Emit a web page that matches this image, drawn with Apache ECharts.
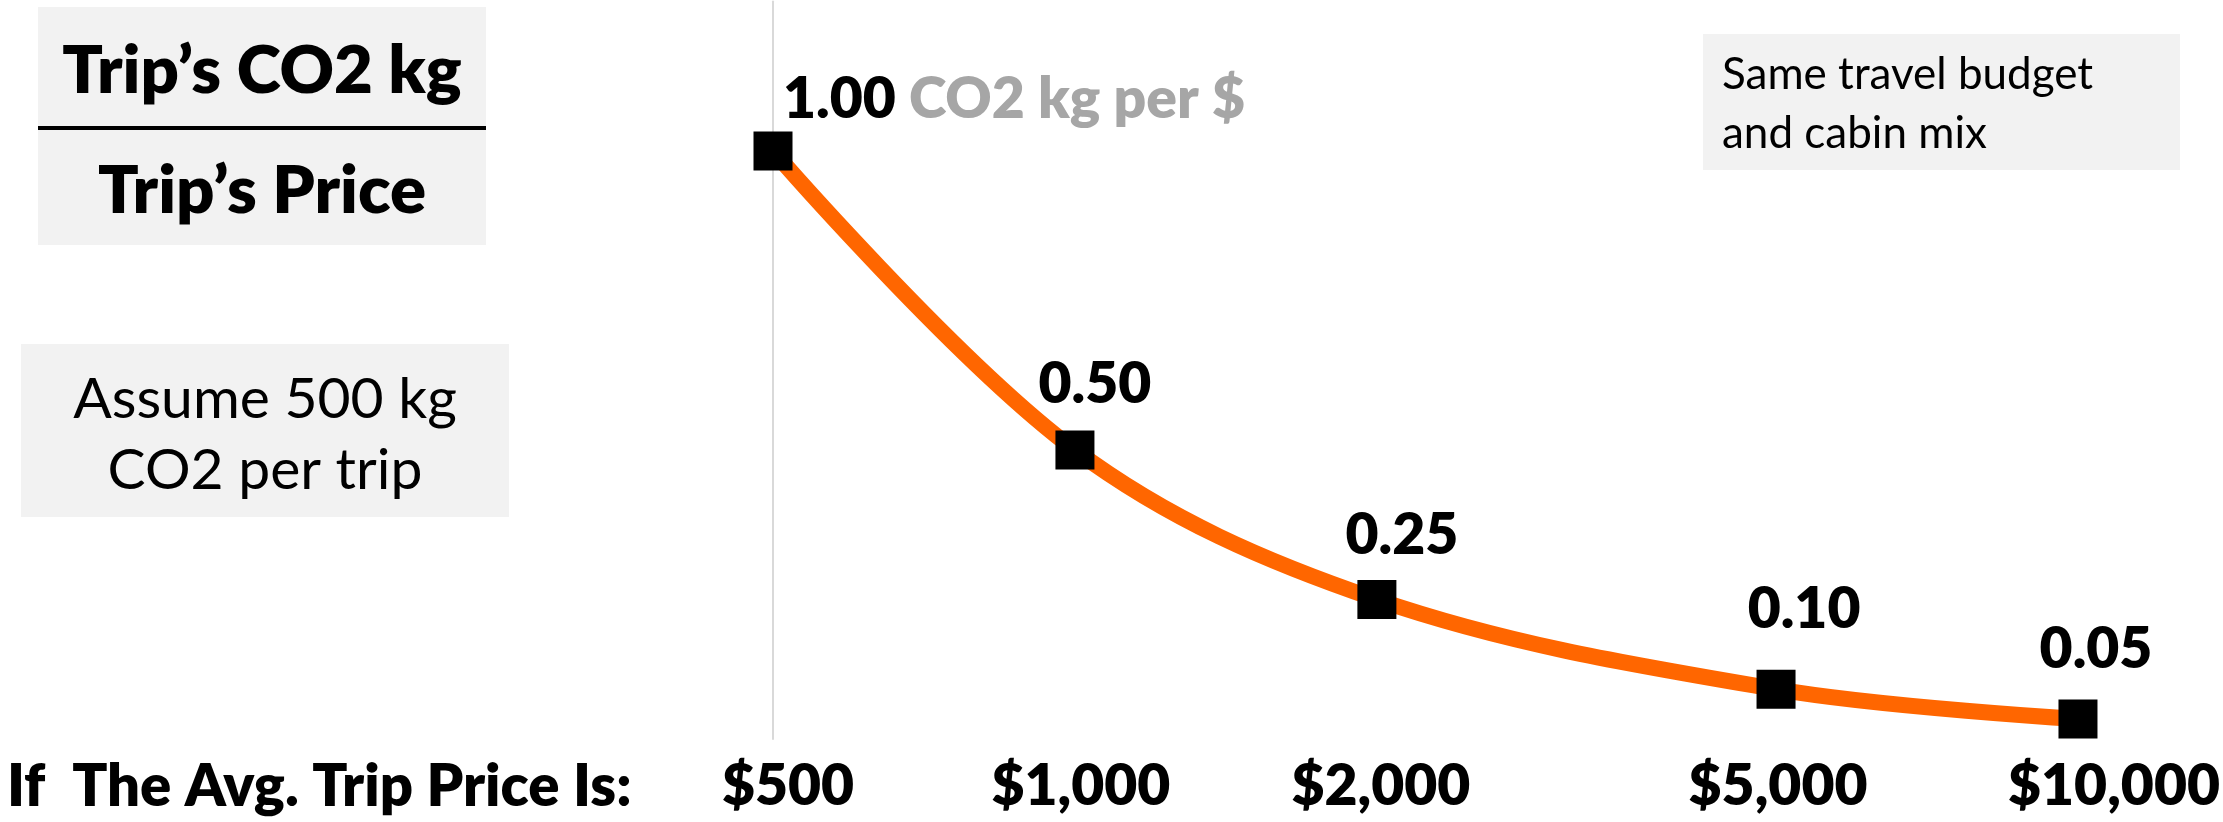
<!DOCTYPE html>
<html>
<head>
<meta charset="utf-8">
<script src="https://cdn.jsdelivr.net/npm/echarts@6/dist/echarts.min.js"></script>
<style>
  html, body { margin: 0; padding: 0; background: #ffffff; }
  #chart { width: 2223px; height: 822px; }
</style>
</head>
<body>
<div id="chart"></div>
<script>
// Average trip price (x) and the resulting CO2 kg per dollar spent (y)
const prices = [500, 1000, 2000, 5000, 10000];
const co2PerDollar = [1.00, 0.50, 0.25, 0.10, 0.05];
const priceLabels = ['$500', '$1,000', '$2,000', '$5,000', '$10,000'];

// Layout tweaks for the value labels and the price labels (pixels)
const valueLabelNudge = [[10, 0], [20, -14], [25, -12], [28, -28], [18, -18]];
const priceLabelShift = [15, 6, 4, 2, 36];

const FONT = 'Lato, "Open Sans", sans-serif';
const HEAVY = 800;
const ORANGE = '#FF6600';

const chart = echarts.init(document.getElementById('chart'), null, { renderer: 'canvas' });

const seriesData = prices.map((p, i) => {
  const item = {
    value: [p, co2PerDollar[i]],
    label: { offset: valueLabelNudge[i] }
  };
  if (i === 0) {
    item.label.align = 'left';
    item.label.formatter = (prm) => '{v|' + prm.value[1].toFixed(2) + '} {u|CO2 kg per $}';
  }
  return item;
});

const priceRich = {};
priceLabels.forEach((t, i) => {
  priceRich['p' + i] = {
    fontFamily: FONT, fontWeight: HEAVY, fontSize: 57, color: '#000',
    lineHeight: 57, padding: [0, 0, 0, priceLabelShift[i] * 2]
  };
});

const option = {
  backgroundColor: '#ffffff',
  animation: false,
  grid: { left: 773, right: 143, top: 1.5, bottom: 83, containLabel: false },
  xAxis: {
    type: 'log',
    logBase: 10,
    min: 500,
    max: 10000,
    axisLine: { show: false },
    axisTick: { show: false },
    splitLine: { show: false },
    axisLabel: {
      show: true,
      customValues: prices,
      margin: 19,
      formatter: (v) => {
        const i = prices.findIndex((p) => Math.abs(p - v) < 1e-6 * p);
        return i < 0 ? '' : '{p' + i + '|' + priceLabels[i] + '}';
      },
      rich: priceRich
    }
  },
  yAxis: {
    type: 'value',
    min: 0.0167,
    max: 1.25,
    axisLine: { show: true, lineStyle: { color: '#d9d9d9', width: 2 } },
    axisTick: { show: false },
    axisLabel: { show: false },
    splitLine: { show: false }
  },
  series: [{
    type: 'line',
    data: seriesData,
    smooth: 0.35,
    symbol: 'rect',
    symbolSize: 39,
    itemStyle: { color: '#000000' },
    lineStyle: { color: ORANGE, width: 16 },
    label: {
      show: true,
      position: 'top',
      distance: 0,
      fontFamily: FONT,
      fontWeight: HEAVY,
      fontSize: 57,
      lineHeight: 64,
      color: '#000000',
      formatter: (prm) => prm.value[1].toFixed(2),
      rich: {
        v: { fontFamily: FONT, fontWeight: HEAVY, fontSize: 57, lineHeight: 64, color: '#000000' },
        u: { fontFamily: FONT, fontWeight: HEAVY, fontSize: 57, lineHeight: 64, color: '#a6a6a6' }
      }
    },
    emphasis: { disabled: true }
  }],
  graphic: [
    // Ratio box: CO2 over price
    { type: 'rect', shape: { x: 38, y: 7, width: 448, height: 238 }, style: { fill: '#f2f2f2' }, silent: true },
    { type: 'line', shape: { x1: 38, y1: 128, x2: 486, y2: 128 }, style: { stroke: '#000', lineWidth: 4 }, silent: true },
    { type: 'text', x: 262, y: 71, style: { text: 'Trip’s CO2 kg', fontFamily: FONT, fontWeight: HEAVY, fontSize: 67, fill: '#000', align: 'center', verticalAlign: 'middle' }, silent: true },
    { type: 'text', x: 262, y: 191, style: { text: 'Trip’s Price', fontFamily: FONT, fontWeight: HEAVY, fontSize: 67, fill: '#000', align: 'center', verticalAlign: 'middle' }, silent: true },

    // Assumption box
    { type: 'rect', shape: { x: 21, y: 344, width: 488, height: 173 }, style: { fill: '#f2f2f2' }, silent: true },
    { type: 'text', x: 265, y: 400, style: { text: 'Assume 500 kg', fontFamily: FONT, fontSize: 57, fill: '#000', align: 'center', verticalAlign: 'middle' }, silent: true },
    { type: 'text', x: 265, y: 471, style: { text: 'CO2 per trip', fontFamily: FONT, fontSize: 57, fill: '#000', align: 'center', verticalAlign: 'middle' }, silent: true },

    // Note box
    { type: 'rect', shape: { x: 1703, y: 34, width: 477, height: 136 }, style: { fill: '#f2f2f2' }, silent: true },
    { type: 'text', x: 1722, y: 75, style: { text: 'Same travel budget', fontFamily: FONT, fontSize: 44, fill: '#000', align: 'left', verticalAlign: 'middle' }, silent: true },
    { type: 'text', x: 1722, y: 134, style: { text: 'and cabin mix', fontFamily: FONT, fontSize: 44, fill: '#000', align: 'left', verticalAlign: 'middle' }, silent: true },

    // Row heading for the price axis
    { type: 'text', x: 7, y: 787, style: { text: 'If  The Avg. Trip Price Is:', fontFamily: FONT, fontWeight: HEAVY, fontSize: 58, fill: '#000', align: 'left', verticalAlign: 'middle' }, silent: true }
  ]
};

chart.setOption(option);
</script>
</body>
</html>
